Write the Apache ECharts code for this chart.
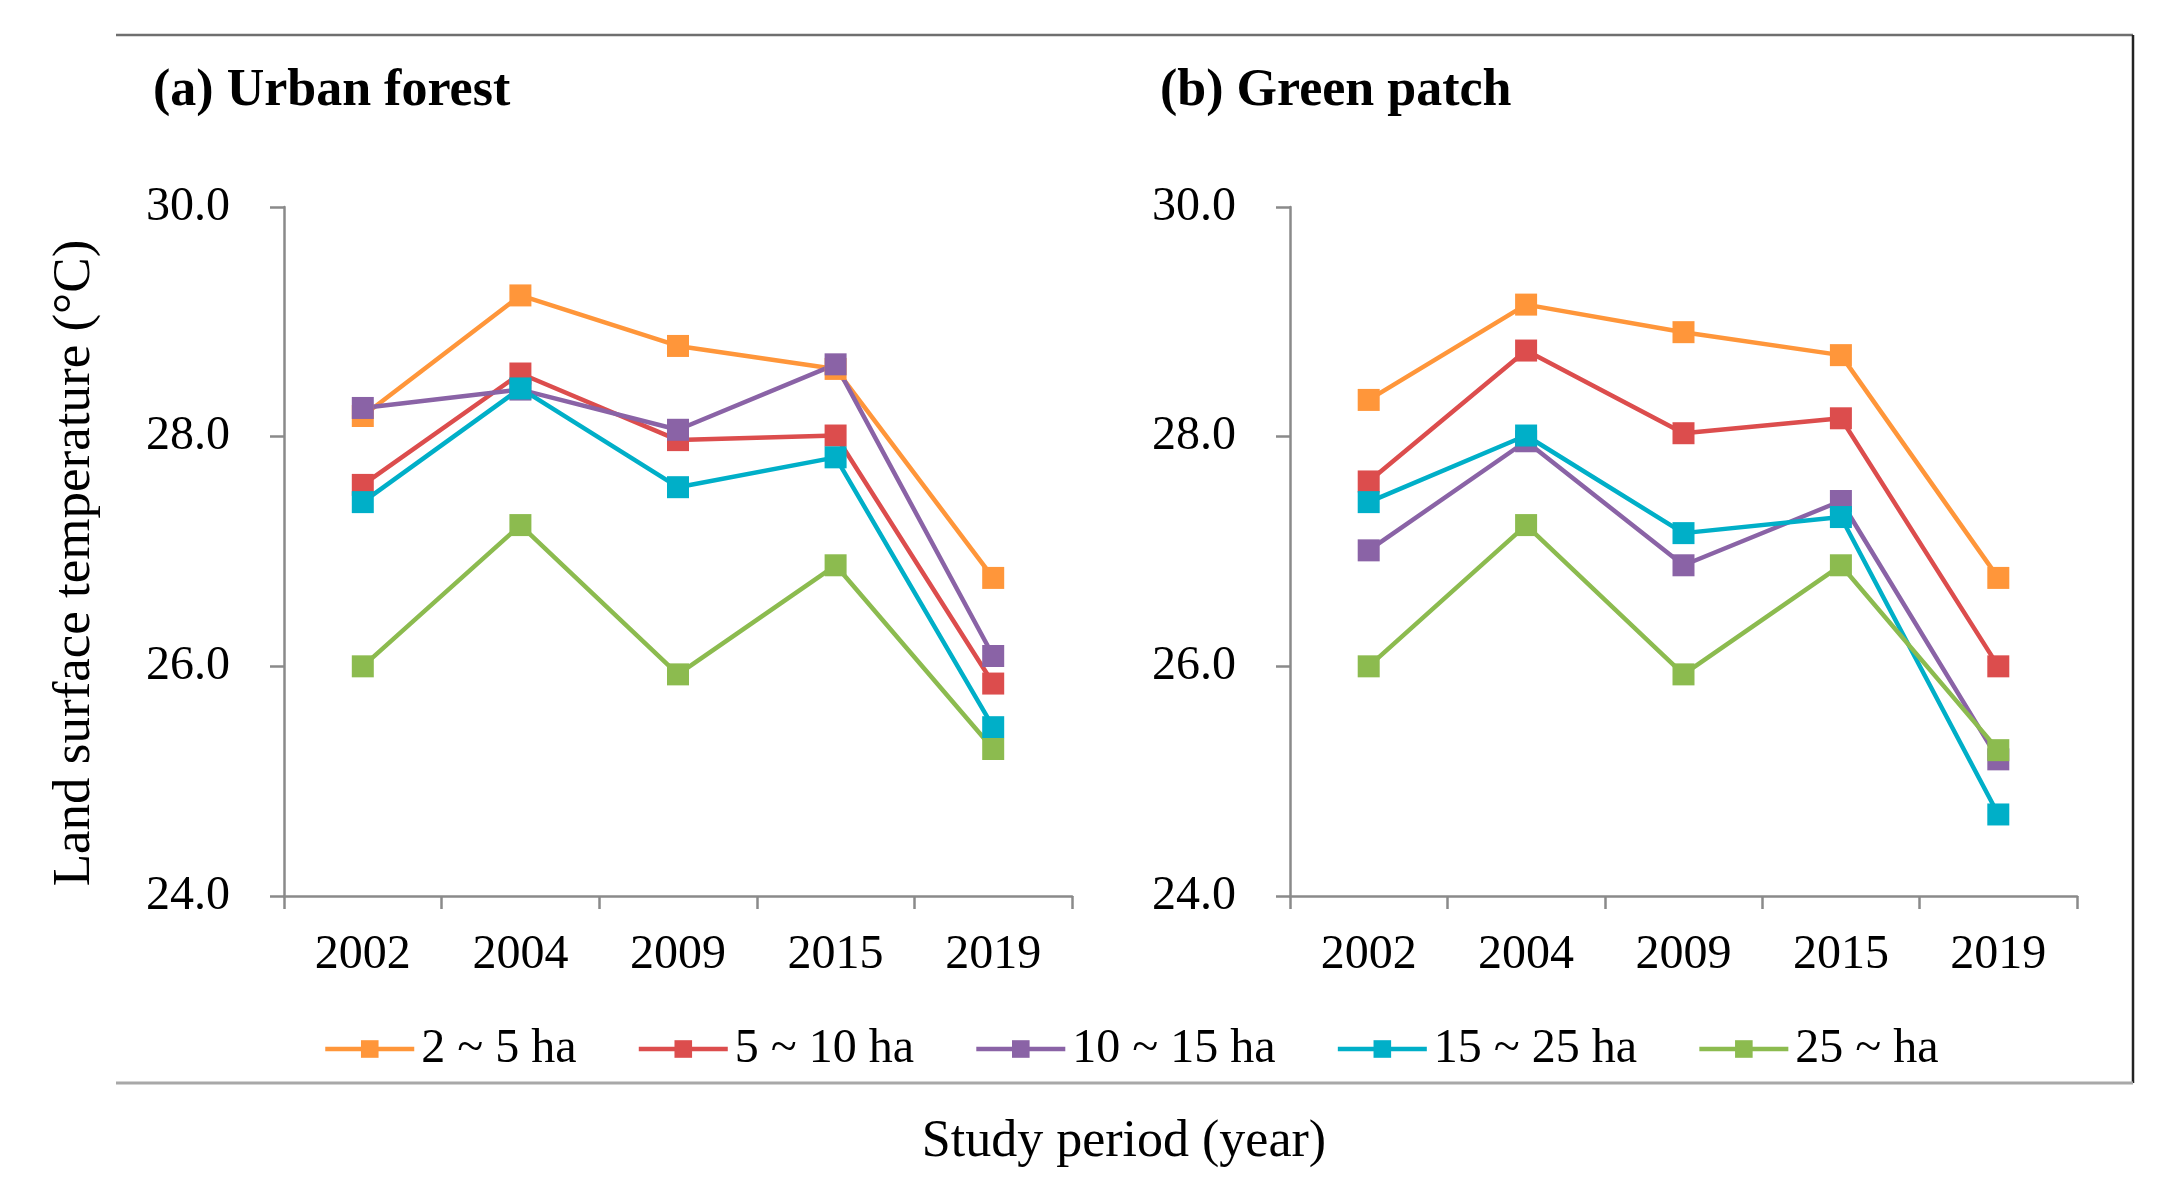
<!DOCTYPE html>
<html>
<head>
<meta charset="utf-8">
<script src="https://cdn.jsdelivr.net/npm/echarts@6/dist/echarts.min.js"></script>
<style>
html,body{margin:0;padding:0;background:#fff;}
#chart{width:2165px;height:1187px;}
</style>
</head>
<body>
<div id="chart"></div>
<script>
// ---- data ----
const categories = ['2002', '2004', '2009', '2015', '2019'];
const seriesNames = ['2 ~ 5 ha', '5 ~ 10 ha', '10 ~ 15 ha', '15 ~ 25 ha', '25 ~ ha'];
const yTicks = [24, 26, 28, 30];

// (a) Urban forest
const urban_2_5   = [28.18, 29.23, 28.79, 28.59, 26.77];
const urban_5_10  = [27.58, 28.55, 27.97, 28.01, 25.85];
const urban_10_15 = [28.25, 28.41, 28.06, 28.63, 26.09];
const urban_15_25 = [27.43, 28.42, 27.56, 27.82, 25.47];
const urban_25    = [26.00, 27.23, 25.93, 26.88, 25.28];

// (b) Green patch
const green_2_5   = [28.32, 29.15, 28.91, 28.71, 26.77];
const green_5_10  = [27.61, 28.75, 28.03, 28.16, 26.00];
const green_10_15 = [27.01, 27.96, 26.88, 27.44, 25.19];
const green_15_25 = [27.43, 28.01, 27.16, 27.30, 24.71];
const green_25    = [26.00, 27.23, 25.93, 26.88, 25.27];

const urbanData = [urban_2_5, urban_5_10, urban_10_15, urban_15_25, urban_25];
const greenData = [green_2_5, green_5_10, green_10_15, green_15_25, green_25];

// ---- styles ----
const colors = ['#FF963A', '#DC4D4D', '#8A63A6', '#00AFC8', '#8CBB4F'];
const FONT = "'Liberation Serif', 'Times New Roman', serif";
const axisGray = '#8a8a8a';

function makeX(gi) {
  return {
    type: 'category', gridIndex: gi, data: categories, boundaryGap: true,
    axisLine: { show: true, lineStyle: { color: axisGray, width: 2.5 } },
    axisTick: { show: true, length: 13, alignWithLabel: false, lineStyle: { color: axisGray, width: 2.5 } },
    axisLabel: { fontFamily: FONT, fontSize: 48, color: '#000', margin: 35 },
    splitLine: { show: false }
  };
}
function makeY(gi) {
  return {
    type: 'value', gridIndex: gi, min: yTicks[0], max: yTicks[yTicks.length - 1], interval: 2,
    axisLine: { show: true, lineStyle: { color: axisGray, width: 2.5 } },
    axisTick: { show: true, length: 14, lineStyle: { color: axisGray, width: 2.5 } },
    axisLabel: { fontFamily: FONT, fontSize: 48, color: '#000', margin: 54,
                 formatter: v => v.toFixed(1) },
    splitLine: { show: false }
  };
}
function makeSeries(dataList, gi) {
  return dataList.map((d, i) => ({
    name: seriesNames[i], type: 'line', xAxisIndex: gi, yAxisIndex: gi,
    data: d, symbol: 'rect', symbolSize: 22, showSymbol: true,
    lineStyle: { color: colors[i], width: 4.5 },
    itemStyle: { color: colors[i] },
    emphasis: { disabled: true },
    animation: false
  }));
}

const chart = echarts.init(document.getElementById('chart'), null, { renderer: 'canvas' });
chart.setOption({
  animation: false,
  backgroundColor: '#fff',
  color: colors,
  grid: [
    { left: 284, top: 207, width: 788, height: 689 },
    { left: 1290, top: 207, width: 787, height: 689 }
  ],
  xAxis: [makeX(0), makeX(1)],
  yAxis: [makeY(0), makeY(1)],
  legend: {
    data: seriesNames, left: 318, top: 1020,
    itemWidth: 89, itemHeight: 22, itemGap: 60,
    lineStyle: { width: 4.5 },
    textStyle: { fontFamily: FONT, fontSize: 48, color: '#000', padding: [0, 0, 0, 2] }
  },
  graphic: [
    { type: 'line', shape: { x1: 116, y1: 35, x2: 2133, y2: 35 }, style: { stroke: '#6f6f6f', lineWidth: 2.5 }, silent: true },
    { type: 'line', shape: { x1: 2133, y1: 35, x2: 2133, y2: 1083 }, style: { stroke: '#222', lineWidth: 2.5 }, silent: true },
    { type: 'line', shape: { x1: 116, y1: 1083, x2: 2133, y2: 1083 }, style: { stroke: '#a8a8a8', lineWidth: 3 }, silent: true },
    { type: 'text', left: 153, top: 66, style: { text: '(a) Urban forest', font: "bold 52px 'Liberation Serif', serif", fill: '#000' } },
    { type: 'text', left: 1160, top: 66, style: { text: '(b) Green patch', font: "bold 52px 'Liberation Serif', serif", fill: '#000' } },
    { type: 'text', x: 75, y: 563, rotation: Math.PI / 2,
      style: { text: 'Land surface temperature (°C)', font: "53px 'Liberation Serif', serif", fill: '#000', textAlign: 'center', textVerticalAlign: 'middle' } },
    { type: 'text', x: 1124, y: 1142,
      style: { text: 'Study period (year)', font: "52px 'Liberation Serif', serif", fill: '#000', textAlign: 'center', textVerticalAlign: 'middle' } }
  ],
  series: makeSeries(urbanData, 0).concat(makeSeries(greenData, 1))
});
</script>
</body>
</html>
